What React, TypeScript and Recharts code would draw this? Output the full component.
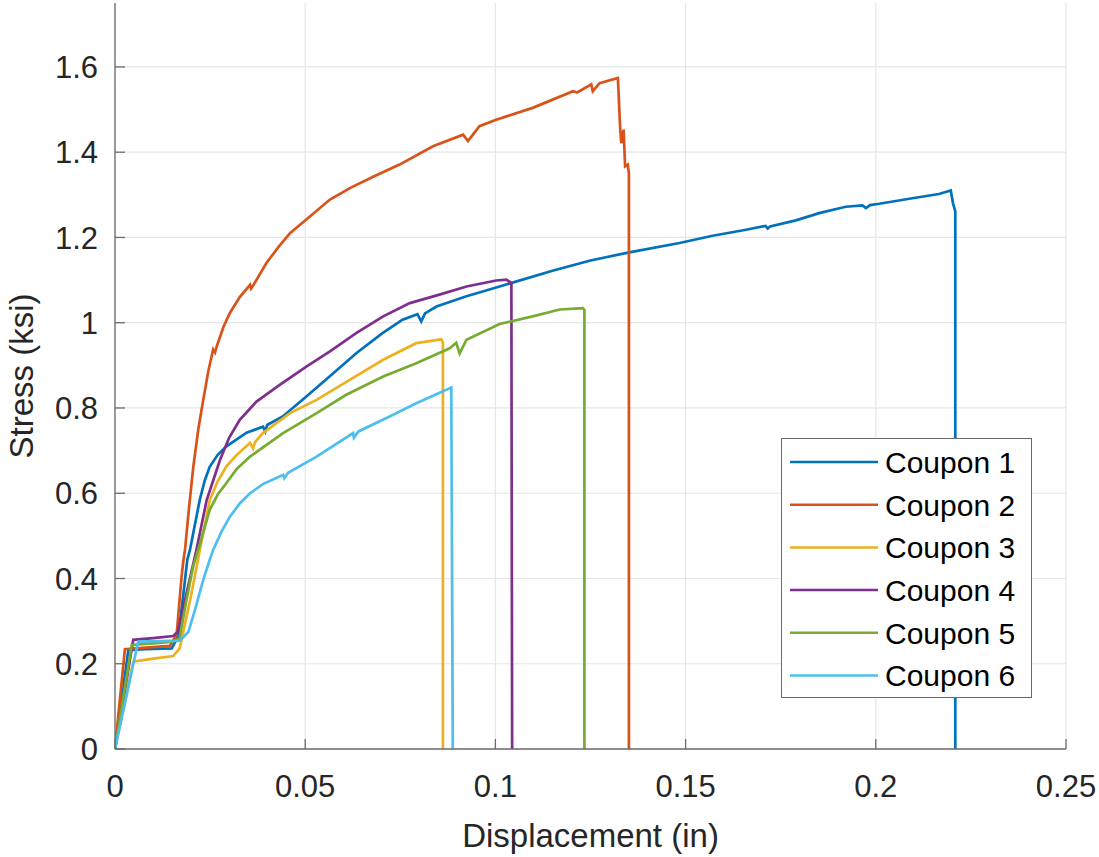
import React from 'react';
import { LineChart, Line, XAxis, YAxis, CartesianGrid } from 'recharts';

const xTicks = [0, 0.05, 0.1, 0.15, 0.2, 0.25];
const yTicks = [0, 0.2, 0.4, 0.6, 0.8, 1, 1.2, 1.4, 1.6];
const seriesNames = ['Coupon 1', 'Coupon 2', 'Coupon 3', 'Coupon 4', 'Coupon 5', 'Coupon 6'];
const seriesColors = ['#0072BD', '#D95319', '#EDB120', '#7E2F8E', '#77AC30', '#4DBEEE'];

const coupon1: [number, number][] = [
  [0, 0], [0.0035, 0.232], [0.008, 0.234], [0.0149, 0.236], [0.0166, 0.264], [0.018, 0.365],
  [0.019, 0.444], [0.0197, 0.467], [0.0223, 0.585], [0.0236, 0.63], [0.0249, 0.662], [0.027, 0.69],
  [0.0293, 0.71], [0.0346, 0.742], [0.0389, 0.756], [0.0395, 0.745], [0.04, 0.76], [0.0441, 0.78],
  [0.0503, 0.827], [0.0564, 0.874], [0.0635, 0.929], [0.0704, 0.976], [0.0756, 1.007], [0.0795, 1.02],
  [0.0805, 1.003], [0.0815, 1.022], [0.0845, 1.038], [0.0924, 1.062], [0.1011, 1.085], [0.1045, 1.094],
  [0.115, 1.122], [0.125, 1.146], [0.1352, 1.165], [0.1484, 1.187], [0.1571, 1.204], [0.1659, 1.218],
  [0.171, 1.227], [0.1716, 1.221], [0.1722, 1.226], [0.179, 1.24], [0.1851, 1.257], [0.1921, 1.272],
  [0.1965, 1.275], [0.1974, 1.269], [0.1985, 1.276], [0.2009, 1.279], [0.2096, 1.292], [0.2166, 1.302],
  [0.2197, 1.31], [0.2203, 1.28], [0.2209, 1.261], [0.2209, 0],
];
const coupon2: [number, number][] = [
  [0, 0], [0.0026, 0.234], [0.008, 0.238], [0.0144, 0.242], [0.0162, 0.268], [0.0175, 0.404],
  [0.018, 0.444], [0.0184, 0.467], [0.0195, 0.57], [0.0206, 0.663], [0.0219, 0.75], [0.0232, 0.819],
  [0.0245, 0.885], [0.0258, 0.937], [0.0263, 0.93], [0.0268, 0.946], [0.0285, 0.99], [0.0302, 1.023],
  [0.0328, 1.06], [0.0355, 1.089], [0.0358, 1.08], [0.0365, 1.09], [0.0398, 1.14], [0.043, 1.178],
  [0.046, 1.21], [0.0503, 1.242], [0.0565, 1.289], [0.062, 1.317], [0.068, 1.343], [0.0748, 1.371],
  [0.0836, 1.414], [0.0915, 1.441], [0.0928, 1.426], [0.0958, 1.461], [0.1002, 1.476], [0.1098, 1.504],
  [0.1204, 1.543], [0.1215, 1.54], [0.1252, 1.559], [0.1256, 1.543], [0.1274, 1.562], [0.1322, 1.574],
  [0.1328, 1.456], [0.1331, 1.421], [0.1337, 1.453], [0.1341, 1.367], [0.1348, 1.371], [0.1351, 1.35],
  [0.1351, 0],
];
const coupon3: [number, number][] = [
  [0, 0], [0.0048, 0.205], [0.01, 0.212], [0.0153, 0.218], [0.017, 0.236], [0.0175, 0.256],
  [0.02, 0.36], [0.0223, 0.467], [0.0249, 0.584], [0.027, 0.628], [0.0293, 0.663], [0.032, 0.69],
  [0.0355, 0.718], [0.0363, 0.705], [0.0368, 0.72], [0.0389, 0.741], [0.046, 0.788], [0.053, 0.819],
  [0.0617, 0.866], [0.0705, 0.913], [0.0792, 0.952], [0.0858, 0.961], [0.0862, 0.953], [0.0862, 0],
];
const coupon4: [number, number][] = [
  [0, 0], [0.0048, 0.256], [0.01, 0.26], [0.0153, 0.265], [0.0165, 0.275], [0.0214, 0.467],
  [0.0241, 0.584], [0.0276, 0.678], [0.03, 0.73], [0.0328, 0.772], [0.0372, 0.815], [0.0433, 0.854],
  [0.0503, 0.897], [0.0565, 0.933], [0.0635, 0.976], [0.0705, 1.015], [0.0775, 1.046], [0.0853, 1.066],
  [0.0924, 1.085], [0.1002, 1.099], [0.1029, 1.101], [0.1042, 1.093], [0.1044, 0],
];
const coupon5: [number, number][] = [
  [0, 0], [0.0044, 0.244], [0.01, 0.248], [0.0153, 0.252], [0.017, 0.26], [0.0188, 0.35],
  [0.0206, 0.43], [0.0223, 0.48], [0.0249, 0.561], [0.027, 0.597], [0.0293, 0.624], [0.032, 0.657],
  [0.0355, 0.686], [0.0442, 0.741], [0.053, 0.788], [0.0608, 0.831], [0.0705, 0.874], [0.0792, 0.905],
  [0.088, 0.94], [0.0897, 0.953], [0.0906, 0.928], [0.0924, 0.96], [0.1011, 0.997], [0.1098, 1.015],
  [0.1169, 1.031], [0.123, 1.034], [0.1234, 1.03], [0.1234, 0],
];
const coupon6: [number, number][] = [
  [0, 0], [0.0061, 0.252], [0.012, 0.253], [0.0171, 0.254], [0.0193, 0.275], [0.021, 0.326],
  [0.0232, 0.397], [0.0249, 0.444], [0.0258, 0.467], [0.028, 0.51], [0.0302, 0.545], [0.0328, 0.576],
  [0.0355, 0.6], [0.039, 0.622], [0.0442, 0.643], [0.0445, 0.635], [0.0455, 0.648], [0.053, 0.686],
  [0.0626, 0.741], [0.0628, 0.73], [0.064, 0.745], [0.0722, 0.78], [0.0792, 0.811], [0.0884, 0.848],
  [0.0888, 0],
];

const allSeries = [coupon1, coupon2, coupon3, coupon4, coupon5, coupon6];

const FONT = '"Liberation Sans", Arial, Helvetica, sans-serif';
const AXIS = '#6b6b6b';
const TXT = '#262626';
const TICK_LEN = 10;

const BottomTick = (p: any) => (
  <g>
    <line x1={p.x} y1={p.y} x2={p.x} y2={p.y - TICK_LEN} stroke={AXIS} strokeWidth={1.3} />
    <text x={p.x} y={p.y + 48} textAnchor="middle" fontFamily={FONT} fontSize={31} fill={TXT}>
      {String(p.payload.value)}
    </text>
  </g>
);
const TopTick = (p: any) => (
  <line x1={p.x} y1={p.y} x2={p.x} y2={p.y + TICK_LEN} stroke={AXIS} strokeWidth={1.3} />
);
const LeftTick = (p: any) => (
  <g>
    <line x1={p.x} y1={p.y} x2={p.x + TICK_LEN} y2={p.y} stroke={AXIS} strokeWidth={1.3} />
    <text x={p.x - 17} y={p.y} dy="0.36em" textAnchor="end" fontFamily={FONT} fontSize={31} fill={TXT}>
      {String(p.payload.value)}
    </text>
  </g>
);
const RightTick = (p: any) => (
  <line x1={p.x} y1={p.y} x2={p.x - TICK_LEN} y2={p.y} stroke={AXIS} strokeWidth={1.3} />
);

const XLabel = (props: any) => {
  const vb = props.viewBox;
  return (
    <text x={vb.x + vb.width / 2} y={vb.y + 98} textAnchor="middle" fontFamily={FONT} fontSize={33} fill={TXT}>
      Displacement (in)
    </text>
  );
};
const YLabel = (props: any) => {
  const vb = props.viewBox;
  const cx = 33;
  const cy = vb.y + vb.height / 2;
  return (
    <text x={cx} y={cy} transform={`rotate(-90 ${cx} ${cy})`} textAnchor="middle" fontFamily={FONT} fontSize={33} fill={TXT}>
      Stress (ksi)
    </text>
  );
};

const LegendBox = () => (
  <svg width={251} height={260} style={{ display: 'block' }}>
    <rect x={0.5} y={0.5} width={250} height={259} fill="#fff" stroke={AXIS} strokeWidth={1} />
    {seriesNames.map((n, i) => {
      const cy = 24 + i * 42.7;
      return (
        <g key={n}>
          <line x1={9} x2={97} y1={cy} y2={cy} stroke={seriesColors[i]} strokeWidth={2.5} />
          <text x={104} y={cy} dy="0.36em" fontFamily={FONT} fontSize={30} fill="#000">{n}</text>
        </g>
      );
    })}
  </svg>
);

export default function App() {
  return (
    <div style={{ position: 'absolute', left: 0, top: 0, width: 1099, height: 857, background: '#fff' }}>
      <LineChart width={1099} height={857} margin={{ top: 3, right: 33, bottom: 48, left: 55 }}>
        <CartesianGrid stroke="#e6e6e6" strokeWidth={1.2} horizontalValues={yTicks} verticalValues={xTicks} />
        <XAxis
          type="number"
          dataKey="x"
          domain={[0, 0.25]}
          ticks={xTicks}
          interval={0}
          height={60}
          tickSize={0}
          tickMargin={0}
          tickLine={false}
          tick={<BottomTick />}
          axisLine={{ stroke: AXIS, strokeWidth: 1.3 }}
          allowDataOverflow
          label={<XLabel />}
        />
        <XAxis
          xAxisId="top"
          orientation="top"
          type="number"
          domain={[0, 0.25]}
          ticks={xTicks}
          interval={0}
          height={0}
          tickSize={0}
          tickMargin={0}
          tickLine={false}
          tick={<TopTick />}
          axisLine={{ stroke: AXIS, strokeWidth: 1.3 }}
          allowDataOverflow
        />
        <YAxis
          type="number"
          domain={[0, 1.75]}
          ticks={yTicks}
          interval={0}
          width={60}
          tickSize={0}
          tickMargin={0}
          tickLine={false}
          tick={<LeftTick />}
          axisLine={{ stroke: AXIS, strokeWidth: 1.3 }}
          allowDataOverflow
          label={<YLabel />}
        />
        <YAxis
          yAxisId="right"
          orientation="right"
          type="number"
          domain={[0, 1.75]}
          ticks={yTicks}
          interval={0}
          width={0}
          tickSize={0}
          tickMargin={0}
          tickLine={false}
          tick={<RightTick />}
          axisLine={{ stroke: AXIS, strokeWidth: 1.3 }}
          allowDataOverflow
        />
        {allSeries.map((s, i) => (
          <Line
            key={seriesNames[i]}
            name={seriesNames[i]}
            data={s.map(([x, y]) => ({ x, y }))}
            dataKey="y"
            type="linear"
            stroke={seriesColors[i]}
            strokeWidth={2.7}
            dot={false}
            activeDot={false}
            isAnimationActive={false}
          />
        ))}
      </LineChart>
      <div style={{ position: 'absolute', left: 781, top: 438, width: 251, height: 260 }}>
        <LegendBox />
      </div>
    </div>
  );
}
